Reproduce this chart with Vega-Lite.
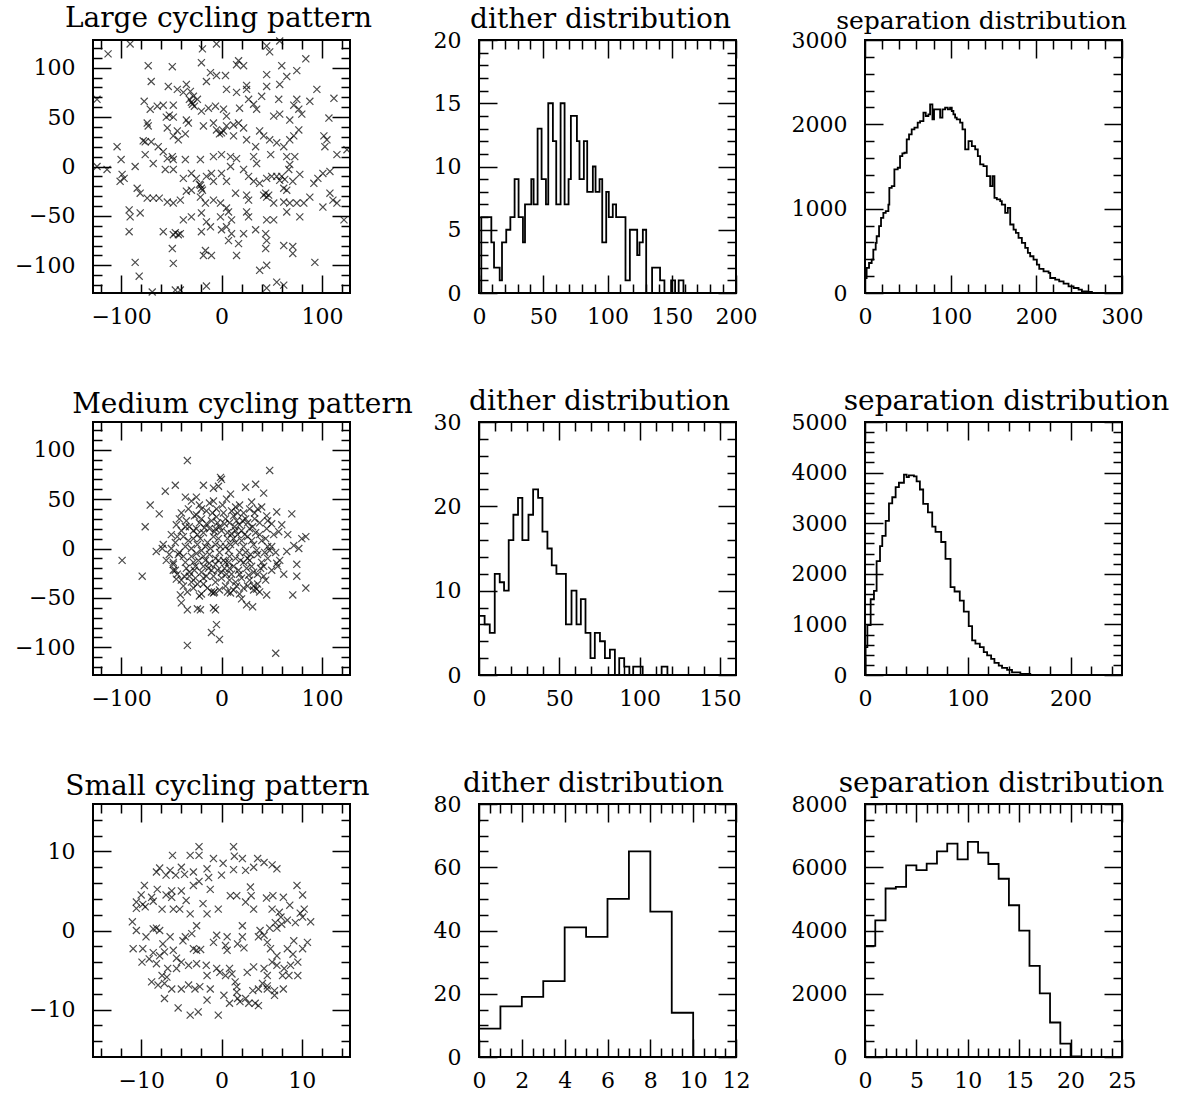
{
"$schema":"https://vega.github.io/schema/vega-lite/v6.json",
"background":"white",
"padding":{"left":13,"top":4,"right":5,"bottom":0},
"config":{
"view":{"stroke":"black","strokeWidth":2},
"axis":{"domain":false,"grid":false,"tickColor":"black","tickWidth":1.5,"labelFont":"DejaVu Serif","labelFontSize":22,"labelColor":"black","labelFlush":false,"labelOverlap":false,"labelBound":false},
"title":{"font":"DejaVu Serif","fontSize":28,"fontWeight":"normal","color":"black","anchor":"middle","offset":-5,"baseline":"alphabetic"}
},
"datasets":{
"large":[{"x":-113,"y":114},{"x":-91,"y":124},{"x":-19,"y":119},{"x":-5,"y":124},{"x":45,"y":122},{"x":48,"y":116},{"x":58,"y":127},{"x":-20,"y":105},{"x":-73,"y":102},{"x":-49,"y":101},{"x":17,"y":107},{"x":22,"y":102},{"x":15,"y":103},{"x":84,"y":109},{"x":75,"y":97},{"x":60,"y":102},{"x":45,"y":93},{"x":65,"y":91},{"x":-11,"y":95},{"x":-5,"y":92},{"x":4,"y":92},{"x":-70,"y":86},{"x":-35,"y":83},{"x":-15,"y":86},{"x":5,"y":78},{"x":25,"y":82},{"x":25,"y":78},{"x":45,"y":81},{"x":58,"y":83},{"x":95,"y":78},{"x":-53,"y":81},{"x":-44,"y":78},{"x":-38,"y":75},{"x":-31,"y":76},{"x":-28,"y":71},{"x":-24,"y":68},{"x":-30,"y":65},{"x":-27,"y":61},{"x":15,"y":75},{"x":27,"y":68},{"x":40,"y":71},{"x":57,"y":68},{"x":75,"y":68},{"x":88,"y":66},{"x":112,"y":69},{"x":-124,"y":68},{"x":-77,"y":66},{"x":-71,"y":58},{"x":-64,"y":61},{"x":-58,"y":62},{"x":-48,"y":62},{"x":-20,"y":56},{"x":-13,"y":59},{"x":-6,"y":61},{"x":2,"y":58},{"x":5,"y":51},{"x":17,"y":44},{"x":18,"y":59},{"x":35,"y":58},{"x":32,"y":63},{"x":72,"y":62},{"x":77,"y":58},{"x":80,"y":53},{"x":52,"y":51},{"x":58,"y":53},{"x":68,"y":47},{"x":107,"y":49},{"x":-48,"y":50},{"x":-35,"y":47},{"x":-33,"y":44},{"x":-74,"y":44},{"x":-73,"y":41},{"x":-54,"y":39},{"x":-44,"y":36},{"x":-48,"y":31},{"x":-36,"y":33},{"x":-43,"y":27},{"x":-70,"y":25},{"x":-63,"y":20},{"x":-58,"y":15},{"x":-18,"y":41},{"x":-5,"y":37},{"x":0,"y":34},{"x":5,"y":41},{"x":-8,"y":44},{"x":12,"y":42},{"x":22,"y":39},{"x":12,"y":31},{"x":25,"y":27},{"x":38,"y":36},{"x":42,"y":31},{"x":48,"y":27},{"x":55,"y":24},{"x":62,"y":20},{"x":68,"y":27},{"x":72,"y":31},{"x":77,"y":37},{"x":34,"y":20},{"x":102,"y":31},{"x":105,"y":27},{"x":103,"y":20},{"x":115,"y":12},{"x":125,"y":17},{"x":-104,"y":20},{"x":-100,"y":7},{"x":-86,"y":0},{"x":-76,"y":12},{"x":-68,"y":3},{"x":-54,"y":8},{"x":-49,"y":10},{"x":-48,"y":7},{"x":-36,"y":7},{"x":-21,"y":7},{"x":-8,"y":10},{"x":0,"y":12},{"x":9,"y":10},{"x":15,"y":8},{"x":32,"y":10},{"x":35,"y":3},{"x":49,"y":12},{"x":65,"y":10},{"x":73,"y":10},{"x":68,"y":2},{"x":-124,"y":0},{"x":-114,"y":-3},{"x":-99,"y":-8},{"x":-97,"y":-12},{"x":-101,"y":-15},{"x":-56,"y":-3},{"x":-48,"y":-3},{"x":-38,"y":-12},{"x":-30,"y":-7},{"x":-25,"y":-12},{"x":-21,"y":-19},{"x":-20,"y":-22},{"x":-15,"y":-10},{"x":-10,"y":-7},{"x":-8,"y":-15},{"x":0,"y":-7},{"x":5,"y":-15},{"x":9,"y":0},{"x":22,"y":-3},{"x":27,"y":-10},{"x":32,"y":-15},{"x":38,"y":-17},{"x":45,"y":-12},{"x":50,"y":-10},{"x":55,"y":-10},{"x":58,"y":-14},{"x":62,"y":-22},{"x":65,"y":-24},{"x":67,"y":-3},{"x":71,"y":-15},{"x":78,"y":-8},{"x":92,"y":-17},{"x":96,"y":-12},{"x":101,"y":-7},{"x":108,"y":-5},{"x":-84,"y":-22},{"x":-81,"y":-27},{"x":-74,"y":-32},{"x":-68,"y":-32},{"x":-62,"y":-32},{"x":-54,"y":-36},{"x":-48,"y":-37},{"x":-41,"y":-34},{"x":-35,"y":-25},{"x":-30,"y":-24},{"x":-21,"y":-31},{"x":-16,"y":-37},{"x":-8,"y":-34},{"x":-1,"y":-37},{"x":5,"y":-42},{"x":14,"y":-27},{"x":25,"y":-29},{"x":27,"y":-34},{"x":42,"y":-29},{"x":45,"y":-31},{"x":52,"y":-37},{"x":62,"y":-36},{"x":68,"y":-37},{"x":75,"y":-37},{"x":82,"y":-37},{"x":88,"y":-31},{"x":108,"y":-27},{"x":111,"y":-34},{"x":115,"y":-37},{"x":101,"y":-41},{"x":122,"y":-54},{"x":-92,"y":-44},{"x":-91,"y":-51},{"x":-81,"y":-47},{"x":-92,"y":-66},{"x":-38,"y":-54},{"x":-30,"y":-51},{"x":-20,"y":-47},{"x":-15,"y":-56},{"x":-11,"y":-61},{"x":-1,"y":-51},{"x":7,"y":-46},{"x":10,"y":-54},{"x":25,"y":-46},{"x":27,"y":-51},{"x":45,"y":-54},{"x":52,"y":-54},{"x":65,"y":-46},{"x":78,"y":-51},{"x":-58,"y":-66},{"x":-48,"y":-69},{"x":-41,"y":-68},{"x":-20,"y":-66},{"x":0,"y":-64},{"x":5,"y":-61},{"x":10,"y":-68},{"x":7,"y":-75},{"x":22,"y":-68},{"x":34,"y":-64},{"x":44,"y":-68},{"x":45,"y":-75},{"x":17,"y":-78},{"x":62,"y":-80},{"x":71,"y":-81},{"x":71,"y":-88},{"x":-49,"y":-83},{"x":-48,"y":-98},{"x":-16,"y":-85},{"x":-10,"y":-90},{"x":-18,"y":-90},{"x":15,"y":-90},{"x":44,"y":-83},{"x":45,"y":-100},{"x":38,"y":-105},{"x":93,"y":-97},{"x":-86,"y":-97},{"x":-82,"y":-111},{"x":-69,"y":-127},{"x":-46,"y":-125},{"x":-41,"y":-125},{"x":-15,"y":-121},{"x":45,"y":-123},{"x":55,"y":-117},{"x":62,"y":-120},{"x":-32,"y":68},{"x":-29,"y":63},{"x":-22,"y":-18},{"x":-19,"y":-24},{"x":44,"y":-27},{"x":47,"y":-29},{"x":-46,"y":-67},{"x":-43,"y":-69},{"x":-78,"y":26},{"x":-76,"y":25},{"x":63,"y":-13},{"x":60,"y":-10},{"x":-2,"y":33},{"x":2,"y":36},{"x":-55,"y":50},{"x":-52,"y":52}],
"medium":[{"x":-34,"y":89},{"x":48,"y":79},{"x":-1,"y":72},{"x":0,"y":70},{"x":-56,"y":58},{"x":-46,"y":64},{"x":-18,"y":64},{"x":-8,"y":61},{"x":-3,"y":63},{"x":24,"y":62},{"x":34,"y":65},{"x":42,"y":56},{"x":-71,"y":44},{"x":-62,"y":35},{"x":-76,"y":22},{"x":-36,"y":52},{"x":-25,"y":52},{"x":9,"y":55},{"x":55,"y":37},{"x":70,"y":35},{"x":66,"y":14},{"x":80,"y":10},{"x":84,"y":12},{"x":72,"y":3},{"x":77,"y":0},{"x":65,"y":-3},{"x":-99,"y":-12},{"x":-79,"y":-28},{"x":-65,"y":-3},{"x":-59,"y":0},{"x":-48,"y":-14},{"x":-46,"y":-22},{"x":-45,"y":-31},{"x":-41,"y":-47},{"x":-40,"y":-55},{"x":-34,"y":-62},{"x":-24,"y":-61},{"x":-21,"y":-62},{"x":-22,"y":-48},{"x":-8,"y":-60},{"x":-6,"y":-62},{"x":-5,"y":-77},{"x":-10,"y":-85},{"x":-2,"y":-92},{"x":-34,"y":-98},{"x":54,"y":-106},{"x":71,"y":-47},{"x":84,"y":-40},{"x":75,"y":-16},{"x":75,"y":-28},{"x":62,"y":-26},{"x":45,"y":-47},{"x":25,"y":-57},{"x":31,"y":-59},{"x":20,"y":-51},{"x":35,"y":-41},{"x":32,"y":-38},{"x":9,"y":-45},{"x":55,"y":-15},{"x":57,"y":17},{"x":60,"y":24},{"x":-30,"y":48},{"x":-12,"y":46},{"x":5,"y":50},{"x":18,"y":44},{"x":30,"y":47},{"x":40,"y":42},{"x":-20,"y":40},{"x":10,"y":38},{"x":-40,"y":36},{"x":-25,"y":34},{"x":-15,"y":38},{"x":-5,"y":32},{"x":2,"y":36},{"x":12,"y":33},{"x":22,"y":36},{"x":33,"y":30},{"x":45,"y":33},{"x":-35,"y":28},{"x":50,"y":25},{"x":-45,"y":24},{"x":-32,"y":22},{"x":-22,"y":26},{"x":-10,"y":28},{"x":-2,"y":22},{"x":8,"y":26},{"x":18,"y":24},{"x":28,"y":20},{"x":38,"y":26},{"x":-28,"y":18},{"x":14,"y":18},{"x":-50,"y":14},{"x":-38,"y":12},{"x":-28,"y":10},{"x":-18,"y":16},{"x":-8,"y":12},{"x":0,"y":18},{"x":6,"y":10},{"x":16,"y":14},{"x":26,"y":12},{"x":34,"y":16},{"x":44,"y":10},{"x":-14,"y":6},{"x":-58,"y":4},{"x":-46,"y":6},{"x":-36,"y":2},{"x":-24,"y":4},{"x":-6,"y":4},{"x":4,"y":2},{"x":14,"y":6},{"x":22,"y":2},{"x":32,"y":4},{"x":40,"y":8},{"x":50,"y":2},{"x":-52,"y":-6},{"x":-42,"y":-4},{"x":-30,"y":-8},{"x":-20,"y":-2},{"x":-12,"y":-6},{"x":-2,"y":-4},{"x":8,"y":-8},{"x":18,"y":-4},{"x":26,"y":-10},{"x":36,"y":-6},{"x":46,"y":-10},{"x":54,"y":-4},{"x":-48,"y":-16},{"x":-36,"y":-14},{"x":-26,"y":-18},{"x":-16,"y":-12},{"x":-6,"y":-16},{"x":2,"y":-12},{"x":12,"y":-18},{"x":22,"y":-14},{"x":30,"y":-18},{"x":40,"y":-14},{"x":56,"y":-18},{"x":-10,"y":-22},{"x":-44,"y":-26},{"x":-32,"y":-28},{"x":-20,"y":-24},{"x":-8,"y":-28},{"x":0,"y":-24},{"x":10,"y":-26},{"x":20,"y":-30},{"x":32,"y":-24},{"x":42,"y":-28},{"x":-26,"y":-30},{"x":-30,"y":-34},{"x":-18,"y":-36},{"x":-6,"y":-34},{"x":4,"y":-38},{"x":14,"y":-34},{"x":26,"y":-38},{"x":36,"y":-36},{"x":-24,"y":-36},{"x":-10,"y":-44},{"x":-8,"y":-45},{"x":-7,"y":-44},{"x":6,"y":-44},{"x":18,"y":-46},{"x":32,"y":-42},{"x":-28,"y":-40},{"x":-15,"y":25},{"x":-3,"y":10},{"x":7,"y":-2},{"x":-25,"y":-5},{"x":-35,"y":-20},{"x":25,"y":-20},{"x":35,"y":-2},{"x":15,"y":28},{"x":-5,"y":40},{"x":28,"y":40},{"x":-40,"y":18},{"x":45,"y":20},{"x":-18,"y":-30},{"x":8,"y":-32},{"x":-12,"y":-15},{"x":3,"y":-20},{"x":20,"y":8},{"x":-30,"y":0},{"x":10,"y":15},{"x":-20,"y":30},{"x":-42,"y":30},{"x":-33,"y":40},{"x":-22,"y":44},{"x":-8,"y":48},{"x":14,"y":42},{"x":24,"y":30},{"x":36,"y":40},{"x":46,"y":28},{"x":52,"y":14},{"x":48,"y":-2},{"x":58,"y":-12},{"x":50,"y":-22},{"x":44,"y":-32},{"x":38,"y":-44},{"x":22,"y":-40},{"x":12,"y":-42},{"x":0,"y":-30},{"x":-14,"y":-40},{"x":-20,"y":-46},{"x":-34,"y":-44},{"x":-40,"y":-32},{"x":-48,"y":-22},{"x":-55,"y":-12},{"x":-50,"y":0},{"x":-44,"y":12},{"x":-36,"y":22},{"x":-24,"y":14},{"x":-12,"y":20},{"x":-4,"y":26},{"x":4,"y":30},{"x":16,"y":36},{"x":26,"y":26},{"x":30,"y":8},{"x":24,"y":-4},{"x":14,"y":-10},{"x":4,"y":-14},{"x":-6,"y":-10},{"x":-18,"y":-8},{"x":-28,"y":-14},{"x":-38,"y":-8},{"x":-16,"y":2},{"x":-4,"y":-22},{"x":8,"y":-20},{"x":18,"y":-26},{"x":28,"y":-32},{"x":36,"y":-26},{"x":42,"y":-18},{"x":46,"y":2},{"x":38,"y":14},{"x":20,"y":18},{"x":-32,"y":-24},{"x":-27,"y":33},{"x":-17,"y":21},{"x":-7,"y":17},{"x":3,"y":25},{"x":13,"y":22},{"x":23,"y":14},{"x":31,"y":22},{"x":-33,"y":8},{"x":-23,"y":-12},{"x":-13,"y":-20},{"x":-3,"y":-12},{"x":7,"y":-14},{"x":17,"y":-22},{"x":27,"y":-27},{"x":-37,"y":-28},{"x":-27,"y":-22},{"x":-43,"y":-6},{"x":-21,"y":10},{"x":-11,"y":0},{"x":-1,"y":2},{"x":9,"y":4},{"x":19,"y":-12},{"x":29,"y":-6},{"x":39,"y":-20},{"x":-15,"y":-28},{"x":5,"y":-26},{"x":15,"y":-38},{"x":-25,"y":20},{"x":-9,"y":36},{"x":1,"y":44},{"x":21,"y":28},{"x":33,"y":36},{"x":-38,"y":-38},{"x":-2,"y":-42},{"x":28,"y":-12},{"x":43,"y":-4},{"x":12,"y":10},{"x":-6,"y":20},{"x":-18,"y":-18},{"x":6,"y":16}],
"small":[{"x":-2.8,"y":10.6},{"x":-2.8,"y":9.5},{"x":-3.9,"y":9.5},{"x":-6.1,"y":9.5},{"x":-1.0,"y":9.1},{"x":1.5,"y":10.6},{"x":1.6,"y":9.4},{"x":2.6,"y":9.1},{"x":0.2,"y":8.5},{"x":4.5,"y":9.1},{"x":5.3,"y":8.6},{"x":6.3,"y":8.3},{"x":6.9,"y":7.8},{"x":4.0,"y":8.0},{"x":3.0,"y":7.6},{"x":1.5,"y":7.7},{"x":0.0,"y":7.0},{"x":-1.8,"y":7.8},{"x":-1.6,"y":6.7},{"x":-3.5,"y":7.4},{"x":-4.6,"y":7.1},{"x":-5.0,"y":8.0},{"x":-5.7,"y":7.0},{"x":-6.4,"y":7.6},{"x":-7.7,"y":7.9},{"x":-8.1,"y":7.4},{"x":-6.9,"y":7.0},{"x":-9.6,"y":5.7},{"x":-10.0,"y":4.5},{"x":-10.6,"y":3.6},{"x":-10.6,"y":2.8},{"x":-8.7,"y":4.2},{"x":-8.5,"y":3.7},{"x":-7.4,"y":2.7},{"x":-6.9,"y":4.5},{"x":-6.2,"y":5.0},{"x":-6.2,"y":4.2},{"x":-5.0,"y":5.0},{"x":-4.4,"y":3.8},{"x":-3.5,"y":5.7},{"x":-2.8,"y":6.2},{"x":-1.4,"y":5.2},{"x":-2.3,"y":3.4},{"x":-1.8,"y":2.1},{"x":-3.9,"y":2.1},{"x":-5.2,"y":2.7},{"x":-6.0,"y":2.7},{"x":-0.4,"y":2.7},{"x":1.1,"y":4.4},{"x":1.9,"y":4.4},{"x":3.6,"y":5.5},{"x":3.7,"y":4.4},{"x":3.0,"y":3.6},{"x":4.0,"y":2.7},{"x":5.6,"y":4.1},{"x":6.4,"y":4.4},{"x":6.3,"y":2.7},{"x":7.7,"y":4.2},{"x":8.5,"y":3.2},{"x":9.4,"y":5.7},{"x":10.1,"y":4.5},{"x":10.3,"y":2.7},{"x":10.1,"y":1.7},{"x":11.1,"y":1.1},{"x":9.2,"y":1.0},{"x":8.2,"y":1.3},{"x":7.4,"y":1.7},{"x":6.7,"y":1.0},{"x":6.9,"y":0.3},{"x":6.0,"y":0.3},{"x":4.8,"y":0.0},{"x":5.3,"y":-0.6},{"x":5.7,"y":-1.5},{"x":4.6,"y":-0.8},{"x":6.1,"y":-2.3},{"x":8.2,"y":-2.3},{"x":9.0,"y":-1.3},{"x":10.7,"y":-1.5},{"x":10.1,"y":-2.3},{"x":-11.1,"y":1.1},{"x":-10.6,"y":0.0},{"x":-11.0,"y":-2.3},{"x":-9.8,"y":-2.3},{"x":-8.5,"y":0.2},{"x":-8.1,"y":0.3},{"x":-7.7,"y":0.0},{"x":-9.4,"y":-0.8},{"x":-7.3,"y":-1.7},{"x":-6.4,"y":-0.8},{"x":-8.5,"y":-2.8},{"x":-7.7,"y":-3.2},{"x":-7.1,"y":-2.7},{"x":-6.0,"y":-2.5},{"x":-5.6,"y":-3.5},{"x":-4.8,"y":-1.3},{"x":-3.7,"y":-0.4},{"x":-3.1,"y":0.6},{"x":-3.5,"y":-2.3},{"x":-3.1,"y":-2.5},{"x":-1.0,"y":-1.5},{"x":0.7,"y":-0.8},{"x":0.5,"y":-1.9},{"x":0.7,"y":-2.5},{"x":2.0,"y":-1.7},{"x":2.6,"y":0.6},{"x":2.8,"y":-2.2},{"x":-9.9,"y":-4.0},{"x":-9.0,"y":-3.6},{"x":-8.1,"y":-4.2},{"x":-7.4,"y":-5.7},{"x":-6.7,"y":-4.8},{"x":-5.6,"y":-4.8},{"x":-5.0,"y":-4.0},{"x":-4.1,"y":-4.4},{"x":-8.7,"y":-6.5},{"x":-7.9,"y":-6.9},{"x":-7.1,"y":-6.7},{"x":-6.2,"y":-7.4},{"x":-5.0,"y":-7.4},{"x":-4.1,"y":-6.9},{"x":-3.3,"y":-7.4},{"x":-2.7,"y":-7.1},{"x":-1.4,"y":-7.4},{"x":-7.1,"y":-8.6},{"x":-5.4,"y":-9.8},{"x":-3.9,"y":-10.7},{"x":-2.9,"y":-10.3},{"x":-1.8,"y":-8.8},{"x":-0.4,"y":-10.7},{"x":-3.1,"y":-4.2},{"x":-1.9,"y":-4.4},{"x":-1.8,"y":-5.7},{"x":-0.6,"y":-4.8},{"x":-0.2,"y":-5.3},{"x":0.5,"y":-5.7},{"x":1.0,"y":-4.8},{"x":1.3,"y":-5.5},{"x":0.3,"y":-8.2},{"x":1.0,"y":-9.2},{"x":1.7,"y":-6.5},{"x":1.9,"y":-7.1},{"x":2.3,"y":-9.0},{"x":3.0,"y":-8.6},{"x":3.4,"y":-9.2},{"x":4.2,"y":-9.2},{"x":4.6,"y":-9.5},{"x":1.9,"y":-7.8},{"x":3.2,"y":-5.3},{"x":4.0,"y":-4.6},{"x":4.6,"y":-7.4},{"x":5.1,"y":-6.7},{"x":5.7,"y":-5.7},{"x":5.7,"y":-7.4},{"x":5.3,"y":-4.8},{"x":6.3,"y":-4.0},{"x":6.9,"y":-4.4},{"x":7.8,"y":-4.8},{"x":8.6,"y":-4.4},{"x":9.5,"y":-4.0},{"x":7.6,"y":-5.7},{"x":8.4,"y":-5.7},{"x":9.5,"y":-5.7},{"x":7.7,"y":-7.4},{"x":6.6,"y":-8.2},{"x":6.6,"y":-7.6},{"x":6.9,"y":-3.2},{"x":5.7,"y":-7.0},{"x":-0.6,"y":-0.6},{"x":2.6,"y":-0.8},{"x":-9.8,"y":3.3},{"x":-9.5,"y":3.0},{"x":-8.0,"y":5.2},{"x":7.2,"y":2.3},{"x":7.5,"y":0.8},{"x":8.9,"y":-3.0},{"x":-6.8,"y":-5.9},{"x":3.9,"y":-7.6},{"x":2.0,"y":-8.6},{"x":-4.5,"y":-0.8},{"x":-2.6,"y":-2.4},{"x":9.8,"y":2.2}],
"d1":[{"x":0,"n":0},{"x":1.8,"n":6},{"x":9.6,"n":4},{"x":11.7,"n":2},{"x":16.1,"n":1},{"x":17.9,"n":4},{"x":21.2,"n":5},{"x":24.4,"n":6},{"x":27.7,"n":9},{"x":30.8,"n":6},{"x":34.2,"n":4},{"x":35.8,"n":7},{"x":40.7,"n":9},{"x":42.5,"n":7},{"x":45.6,"n":13},{"x":48.7,"n":9},{"x":52.1,"n":7},{"x":53.9,"n":15},{"x":57.5,"n":12},{"x":60.1,"n":7},{"x":63.5,"n":15},{"x":66.6,"n":7},{"x":69.7,"n":9},{"x":71.5,"n":14},{"x":76.2,"n":12},{"x":78.2,"n":9},{"x":81.6,"n":12},{"x":84.2,"n":8},{"x":88.6,"n":10},{"x":90.7,"n":8},{"x":93.8,"n":9},{"x":95.9,"n":4},{"x":99.0,"n":8},{"x":101.0,"n":6},{"x":104.1,"n":7},{"x":106.7,"n":6},{"x":114.0,"n":1},{"x":117.4,"n":5},{"x":123.1,"n":3},{"x":124.9,"n":4},{"x":127.5,"n":5},{"x":130.1,"n":0},{"x":134.7,"n":2},{"x":140.9,"n":1},{"x":144.3,"n":0},{"x":149.5,"n":1},{"x":152.6,"n":0},{"x":155.4,"n":1},{"x":159.1,"n":0}],
"s1":[{"x":0,"n":178},{"x":1.9,"n":297},{"x":4.7,"n":356},{"x":7.8,"n":396},{"x":9.7,"n":515},{"x":12.5,"n":594},{"x":13.6,"n":673},{"x":16.4,"n":792},{"x":18.7,"n":891},{"x":21.4,"n":950},{"x":24.2,"n":970},{"x":27.3,"n":1049},{"x":28.4,"n":1247},{"x":31.2,"n":1267},{"x":34.3,"n":1465},{"x":38.2,"n":1485},{"x":40.9,"n":1624},{"x":43.6,"n":1655},{"x":46.0,"n":1663},{"x":48.7,"n":1822},{"x":51.4,"n":1881},{"x":54.5,"n":1940},{"x":57.7,"n":1960},{"x":61.5,"n":2020},{"x":64.3,"n":2039},{"x":68.2,"n":2138},{"x":70.9,"n":2099},{"x":74.0,"n":2119},{"x":76.0,"n":2237},{"x":78.7,"n":2059},{"x":80.6,"n":2178},{"x":87.7,"n":2079},{"x":90.4,"n":2178},{"x":93.5,"n":2198},{"x":96.6,"n":2178},{"x":99.3,"n":2198},{"x":101.3,"n":2158},{"x":103.2,"n":2119},{"x":105.2,"n":2079},{"x":107.1,"n":2059},{"x":111.0,"n":2020},{"x":113.8,"n":1940},{"x":116.9,"n":1703},{"x":120.8,"n":1802},{"x":124.7,"n":1742},{"x":128.6,"n":1703},{"x":131.7,"n":1624},{"x":134.4,"n":1525},{"x":138.3,"n":1505},{"x":142.2,"n":1386},{"x":146.1,"n":1267},{"x":148.8,"n":1386},{"x":151.1,"n":1129},{"x":153.9,"n":1109},{"x":157.8,"n":1089},{"x":159.7,"n":1049},{"x":163.6,"n":950},{"x":166.7,"n":1010},{"x":169.5,"n":812},{"x":173.4,"n":752},{"x":176.1,"n":713},{"x":179.2,"n":653},{"x":183.1,"n":594},{"x":187.0,"n":535},{"x":190.1,"n":475},{"x":192.8,"n":436},{"x":196.7,"n":396},{"x":200.6,"n":337},{"x":203.4,"n":285},{"x":208.4,"n":257},{"x":214.3,"n":238},{"x":216.2,"n":178},{"x":222.0,"n":158},{"x":226.7,"n":139},{"x":231.8,"n":111},{"x":237.6,"n":79},{"x":243.5,"n":59},{"x":249.3,"n":40},{"x":253.2,"n":20},{"x":259.1,"n":12},{"x":264.9,"n":0}],
"d2":[{"x":0,"n":7},{"x":3.5,"n":6},{"x":6.7,"n":5},{"x":9.8,"n":12},{"x":12.9,"n":11},{"x":15.6,"n":10},{"x":18.5,"n":16},{"x":21.4,"n":19},{"x":24.3,"n":21},{"x":27.0,"n":16},{"x":30.8,"n":19},{"x":33.7,"n":22},{"x":36.8,"n":21},{"x":39.5,"n":17},{"x":42.6,"n":15},{"x":45.3,"n":13},{"x":48.2,"n":12},{"x":54.1,"n":6},{"x":57.6,"n":10},{"x":60.7,"n":6},{"x":63.4,"n":9},{"x":66.3,"n":5},{"x":69.4,"n":2},{"x":72.1,"n":5},{"x":75.3,"n":4},{"x":78.4,"n":2},{"x":81.5,"n":3},{"x":84.6,"n":0},{"x":87.3,"n":2},{"x":90.4,"n":1},{"x":93.6,"n":0},{"x":96.0,"n":1},{"x":101.9,"n":0},{"x":113.7,"n":1},{"x":117.3,"n":0}],
"s2":[{"x":0,"n":0},{"x":0.6,"n":552},{"x":2.3,"n":985},{"x":5.5,"n":1497},{"x":8.7,"n":1663},{"x":11.3,"n":2249},{"x":14.6,"n":2548},{"x":16.8,"n":2748},{"x":20.1,"n":3047},{"x":23.3,"n":3393},{"x":26.5,"n":3513},{"x":29.8,"n":3713},{"x":33.0,"n":3799},{"x":37.9,"n":3959},{"x":40.5,"n":3912},{"x":42.7,"n":3945},{"x":47.6,"n":3925},{"x":50.2,"n":3826},{"x":53.4,"n":3666},{"x":56.6,"n":3380},{"x":61.2,"n":3214},{"x":65.4,"n":2934},{"x":68.6,"n":2828},{"x":74.1,"n":2628},{"x":78.3,"n":2295},{"x":83.2,"n":1737},{"x":87.1,"n":1650},{"x":92.2,"n":1470},{"x":96.1,"n":1251},{"x":100.9,"n":965},{"x":104.2,"n":685},{"x":107.4,"n":619},{"x":111.7,"n":552},{"x":115.5,"n":452},{"x":118.8,"n":386},{"x":122.7,"n":319},{"x":125.9,"n":240},{"x":130.1,"n":186},{"x":133.3,"n":140},{"x":138.2,"n":100},{"x":143.0,"n":53},{"x":151.1,"n":20},{"x":160.8,"n":0}],
"d3":[{"x":0,"n":9},{"x":1,"n":16},{"x":2,"n":19},{"x":3,"n":24},{"x":4,"n":41},{"x":5,"n":38},{"x":6,"n":50},{"x":7,"n":65},{"x":8,"n":46},{"x":9,"n":14},{"x":10,"n":0}],
"s3":[{"x":0,"n":3517},{"x":1,"n":4322},{"x":2,"n":5328},{"x":3,"n":5381},{"x":4,"n":6059},{"x":5,"n":5911},{"x":6,"n":6112},{"x":7,"n":6504},{"x":8,"n":6748},{"x":9,"n":6250},{"x":10,"n":6801},{"x":11,"n":6462},{"x":12,"n":6102},{"x":13,"n":5636},{"x":14,"n":4799},{"x":15,"n":3994},{"x":16,"n":2881},{"x":17,"n":2013},{"x":18,"n":1091},{"x":19,"n":424},{"x":20,"n":21},{"x":21,"n":0}]
},
"columns":3,
"spacing":{"row":129,"column":129},
"bounds":"flush",
"concat":[
{"width":257,"height":253,"title":{"text":"Large cycling pattern","dx":-3,"offset":2},"data":{"name":"large"},
"layer":[
{"mark":{"type":"point","shape":"M-1,-1L1,1M-1,1L1,-1","size":50,"filled":false,"color":"black","strokeWidth":1.2},
"encoding":{"x":{"field":"x","type":"quantitative","scale":{"domain":[-128,128],"nice":false,"zero":false},"axis":{"orient":"bottom","values":[-100,0,100],"tickSize":-18,"labelPadding":31,"format":"d","title":null}},
"y":{"field":"y","type":"quantitative","scale":{"domain":[-128,128],"nice":false,"zero":false},"axis":{"orient":"left","values":[-100,-50,0,50,100],"tickSize":-18,"labelPadding":36,"format":"d","title":null}}}},
{"mark":{"type":"point","opacity":0},"encoding":{"x":{"field":"x","type":"quantitative","axis":{"orient":"top","values":[-100,0,100],"tickSize":-18,"labels":false,"title":null}},"y":{"field":"y","type":"quantitative","axis":{"orient":"right","values":[-100,-50,0,50,100],"tickSize":-18,"labels":false,"title":null}}}},
{"mark":{"type":"point","opacity":0},"encoding":{"x":{"field":"x","type":"quantitative","axis":{"orient":"bottom","values":[-120,-80,-60,-40,-20,20,40,60,80,120],"tickSize":-9,"labels":false,"title":null}},"y":{"field":"y","type":"quantitative","axis":{"orient":"left","values":[-120,-110,-90,-80,-70,-60,-40,-30,-20,-10,10,20,30,40,60,70,80,90,110,120],"tickSize":-9,"labels":false,"title":null}}}},
{"mark":{"type":"point","opacity":0},"encoding":{"x":{"field":"x","type":"quantitative","axis":{"orient":"top","values":[-120,-80,-60,-40,-20,20,40,60,80,120],"tickSize":-9,"labels":false,"title":null}},"y":{"field":"y","type":"quantitative","axis":{"orient":"right","values":[-120,-110,-90,-80,-70,-60,-40,-30,-20,-10,10,20,30,40,60,70,80,90,110,120],"tickSize":-9,"labels":false,"title":null}}}}
],"resolve":{"axis":{"x":"independent","y":"independent"}}},
{"width":257,"height":253,"title":{"text":"dither distribution","dx":-7},"data":{"name":"d1"},
"layer":[
{"mark":{"type":"line","interpolate":"step-after","color":"black","strokeWidth":1.8},
"encoding":{"x":{"field":"x","type":"quantitative","scale":{"domain":[0,200],"nice":false,"zero":false},"axis":{"orient":"bottom","values":[0,50,100,150,200],"tickSize":-18,"labelPadding":31,"format":"d","title":null}},
"y":{"field":"n","type":"quantitative","scale":{"domain":[0,20],"nice":false,"zero":false},"axis":{"orient":"left","values":[0,5,10,15,20],"tickSize":-18,"labelPadding":36,"format":"d","title":null}}}},
{"mark":{"type":"point","opacity":0},"encoding":{"x":{"field":"x","type":"quantitative","axis":{"orient":"top","values":[0,50,100,150,200],"tickSize":-18,"labels":false,"title":null}},"y":{"field":"n","type":"quantitative","axis":{"orient":"right","values":[0,5,10,15,20],"tickSize":-18,"labels":false,"title":null}}}},
{"mark":{"type":"point","opacity":0},"encoding":{"x":{"field":"x","type":"quantitative","axis":{"orient":"bottom","values":[10,20,30,40,60,70,80,90,110,120,130,140,160,170,180,190],"tickSize":-9,"labels":false,"title":null}},"y":{"field":"n","type":"quantitative","axis":{"orient":"left","values":[1,2,3,4,6,7,8,9,11,12,13,14,16,17,18,19],"tickSize":-9,"labels":false,"title":null}}}},
{"mark":{"type":"point","opacity":0},"encoding":{"x":{"field":"x","type":"quantitative","axis":{"orient":"top","values":[10,20,30,40,60,70,80,90,110,120,130,140,160,170,180,190],"tickSize":-9,"labels":false,"title":null}},"y":{"field":"n","type":"quantitative","axis":{"orient":"right","values":[1,2,3,4,6,7,8,9,11,12,13,14,16,17,18,19],"tickSize":-9,"labels":false,"title":null}}}}
],"resolve":{"axis":{"x":"independent","y":"independent"}}},
{"width":257,"height":253,"title":{"text":"separation distribution","dx":-12,"fontSize":25},"data":{"name":"s1"},
"layer":[
{"mark":{"type":"line","interpolate":"step-after","color":"black","strokeWidth":1.8},
"encoding":{"x":{"field":"x","type":"quantitative","scale":{"domain":[0,300],"nice":false,"zero":false},"axis":{"orient":"bottom","values":[0,100,200,300],"tickSize":-18,"labelPadding":31,"format":"d","title":null}},
"y":{"field":"n","type":"quantitative","scale":{"domain":[0,3000],"nice":false,"zero":false},"axis":{"orient":"left","values":[0,1000,2000,3000],"tickSize":-18,"labelPadding":36,"format":"d","title":null}}}},
{"mark":{"type":"point","opacity":0},"encoding":{"x":{"field":"x","type":"quantitative","axis":{"orient":"top","values":[0,100,200,300],"tickSize":-18,"labels":false,"title":null}},"y":{"field":"n","type":"quantitative","axis":{"orient":"right","values":[0,1000,2000,3000],"tickSize":-18,"labels":false,"title":null}}}},
{"mark":{"type":"point","opacity":0},"encoding":{"x":{"field":"x","type":"quantitative","axis":{"orient":"bottom","values":[20,40,60,80,120,140,160,180,220,240,260,280],"tickSize":-9,"labels":false,"title":null}},"y":{"field":"n","type":"quantitative","axis":{"orient":"left","values":[200,400,600,800,1200,1400,1600,1800,2200,2400,2600,2800],"tickSize":-9,"labels":false,"title":null}}}},
{"mark":{"type":"point","opacity":0},"encoding":{"x":{"field":"x","type":"quantitative","axis":{"orient":"top","values":[20,40,60,80,120,140,160,180,220,240,260,280],"tickSize":-9,"labels":false,"title":null}},"y":{"field":"n","type":"quantitative","axis":{"orient":"right","values":[200,400,600,800,1200,1400,1600,1800,2200,2400,2600,2800],"tickSize":-9,"labels":false,"title":null}}}}
],"resolve":{"axis":{"x":"independent","y":"independent"}}},
{"width":257,"height":253,"title":{"text":"Medium cycling pattern","dx":21,"offset":2},"data":{"name":"medium"},
"layer":[
{"mark":{"type":"point","shape":"M-1,-1L1,1M-1,1L1,-1","size":50,"filled":false,"color":"black","strokeWidth":1.2},
"encoding":{"x":{"field":"x","type":"quantitative","scale":{"domain":[-128,128],"nice":false,"zero":false},"axis":{"orient":"bottom","values":[-100,0,100],"tickSize":-18,"labelPadding":31,"format":"d","title":null}},
"y":{"field":"y","type":"quantitative","scale":{"domain":[-128,128],"nice":false,"zero":false},"axis":{"orient":"left","values":[-100,-50,0,50,100],"tickSize":-18,"labelPadding":36,"format":"d","title":null}}}},
{"mark":{"type":"point","opacity":0},"encoding":{"x":{"field":"x","type":"quantitative","axis":{"orient":"top","values":[-100,0,100],"tickSize":-18,"labels":false,"title":null}},"y":{"field":"y","type":"quantitative","axis":{"orient":"right","values":[-100,-50,0,50,100],"tickSize":-18,"labels":false,"title":null}}}},
{"mark":{"type":"point","opacity":0},"encoding":{"x":{"field":"x","type":"quantitative","axis":{"orient":"bottom","values":[-120,-80,-60,-40,-20,20,40,60,80,120],"tickSize":-9,"labels":false,"title":null}},"y":{"field":"y","type":"quantitative","axis":{"orient":"left","values":[-120,-110,-90,-80,-70,-60,-40,-30,-20,-10,10,20,30,40,60,70,80,90,110,120],"tickSize":-9,"labels":false,"title":null}}}},
{"mark":{"type":"point","opacity":0},"encoding":{"x":{"field":"x","type":"quantitative","axis":{"orient":"top","values":[-120,-80,-60,-40,-20,20,40,60,80,120],"tickSize":-9,"labels":false,"title":null}},"y":{"field":"y","type":"quantitative","axis":{"orient":"right","values":[-120,-110,-90,-80,-70,-60,-40,-30,-20,-10,10,20,30,40,60,70,80,90,110,120],"tickSize":-9,"labels":false,"title":null}}}}
],"resolve":{"axis":{"x":"independent","y":"independent"}}},
{"width":257,"height":253,"title":{"text":"dither distribution","dx":-8},"data":{"name":"d2"},
"layer":[
{"mark":{"type":"line","interpolate":"step-after","color":"black","strokeWidth":1.8},
"encoding":{"x":{"field":"x","type":"quantitative","scale":{"domain":[0,160],"nice":false,"zero":false},"axis":{"orient":"bottom","values":[0,50,100,150],"tickSize":-18,"labelPadding":31,"format":"d","title":null}},
"y":{"field":"n","type":"quantitative","scale":{"domain":[0,30],"nice":false,"zero":false},"axis":{"orient":"left","values":[0,10,20,30],"tickSize":-18,"labelPadding":36,"format":"d","title":null}}}},
{"mark":{"type":"point","opacity":0},"encoding":{"x":{"field":"x","type":"quantitative","axis":{"orient":"top","values":[0,50,100,150],"tickSize":-18,"labels":false,"title":null}},"y":{"field":"n","type":"quantitative","axis":{"orient":"right","values":[0,10,20,30],"tickSize":-18,"labels":false,"title":null}}}},
{"mark":{"type":"point","opacity":0},"encoding":{"x":{"field":"x","type":"quantitative","axis":{"orient":"bottom","values":[10,20,30,40,60,70,80,90,110,120,130,140],"tickSize":-9,"labels":false,"title":null}},"y":{"field":"n","type":"quantitative","axis":{"orient":"left","values":[2,4,6,8,12,14,16,18,22,24,26,28],"tickSize":-9,"labels":false,"title":null}}}},
{"mark":{"type":"point","opacity":0},"encoding":{"x":{"field":"x","type":"quantitative","axis":{"orient":"top","values":[10,20,30,40,60,70,80,90,110,120,130,140],"tickSize":-9,"labels":false,"title":null}},"y":{"field":"n","type":"quantitative","axis":{"orient":"right","values":[2,4,6,8,12,14,16,18,22,24,26,28],"tickSize":-9,"labels":false,"title":null}}}}
],"resolve":{"axis":{"x":"independent","y":"independent"}}},
{"width":257,"height":253,"title":{"text":"separation distribution","dx":13},"data":{"name":"s2"},
"layer":[
{"mark":{"type":"line","interpolate":"step-after","color":"black","strokeWidth":1.8},
"encoding":{"x":{"field":"x","type":"quantitative","scale":{"domain":[0,250],"nice":false,"zero":false},"axis":{"orient":"bottom","values":[0,100,200],"tickSize":-18,"labelPadding":31,"format":"d","title":null}},
"y":{"field":"n","type":"quantitative","scale":{"domain":[0,5000],"nice":false,"zero":false},"axis":{"orient":"left","values":[0,1000,2000,3000,4000,5000],"tickSize":-18,"labelPadding":36,"format":"d","title":null}}}},
{"mark":{"type":"point","opacity":0},"encoding":{"x":{"field":"x","type":"quantitative","axis":{"orient":"top","values":[0,100,200],"tickSize":-18,"labels":false,"title":null}},"y":{"field":"n","type":"quantitative","axis":{"orient":"right","values":[0,1000,2000,3000,4000,5000],"tickSize":-18,"labels":false,"title":null}}}},
{"mark":{"type":"point","opacity":0},"encoding":{"x":{"field":"x","type":"quantitative","axis":{"orient":"bottom","values":[20,40,60,80,120,140,160,180,220,240],"tickSize":-9,"labels":false,"title":null}},"y":{"field":"n","type":"quantitative","axis":{"orient":"left","values":[200,400,600,800,1200,1400,1600,1800,2200,2400,2600,2800,3200,3400,3600,3800,4200,4400,4600,4800],"tickSize":-9,"labels":false,"title":null}}}},
{"mark":{"type":"point","opacity":0},"encoding":{"x":{"field":"x","type":"quantitative","axis":{"orient":"top","values":[20,40,60,80,120,140,160,180,220,240],"tickSize":-9,"labels":false,"title":null}},"y":{"field":"n","type":"quantitative","axis":{"orient":"right","values":[200,400,600,800,1200,1400,1600,1800,2200,2400,2600,2800,3200,3400,3600,3800,4200,4400,4600,4800],"tickSize":-9,"labels":false,"title":null}}}}
],"resolve":{"axis":{"x":"independent","y":"independent"}}},
{"width":257,"height":253,"title":{"text":"Small cycling pattern","dx":-4,"offset":2},"data":{"name":"small"},
"layer":[
{"mark":{"type":"point","shape":"M-1,-1L1,1M-1,1L1,-1","size":50,"filled":false,"color":"black","strokeWidth":1.2},
"encoding":{"x":{"field":"x","type":"quantitative","scale":{"domain":[-16,16],"nice":false,"zero":false},"axis":{"orient":"bottom","values":[-10,0,10],"tickSize":-18,"labelPadding":31,"format":"d","title":null}},
"y":{"field":"y","type":"quantitative","scale":{"domain":[-16,16],"nice":false,"zero":false},"axis":{"orient":"left","values":[-10,0,10],"tickSize":-18,"labelPadding":36,"format":"d","title":null}}}},
{"mark":{"type":"point","opacity":0},"encoding":{"x":{"field":"x","type":"quantitative","axis":{"orient":"top","values":[-10,0,10],"tickSize":-18,"labels":false,"title":null}},"y":{"field":"y","type":"quantitative","axis":{"orient":"right","values":[-10,0,10],"tickSize":-18,"labels":false,"title":null}}}},
{"mark":{"type":"point","opacity":0},"encoding":{"x":{"field":"x","type":"quantitative","axis":{"orient":"bottom","values":[-15,-12.5,-7.5,-5,-2.5,2.5,5,7.5,12.5,15],"tickSize":-9,"labels":false,"title":null}},"y":{"field":"y","type":"quantitative","axis":{"orient":"left","values":[-14,-12,-8,-6,-4,-2,2,4,6,8,12,14],"tickSize":-9,"labels":false,"title":null}}}},
{"mark":{"type":"point","opacity":0},"encoding":{"x":{"field":"x","type":"quantitative","axis":{"orient":"top","values":[-15,-12.5,-7.5,-5,-2.5,2.5,5,7.5,12.5,15],"tickSize":-9,"labels":false,"title":null}},"y":{"field":"y","type":"quantitative","axis":{"orient":"right","values":[-14,-12,-8,-6,-4,-2,2,4,6,8,12,14],"tickSize":-9,"labels":false,"title":null}}}}
],"resolve":{"axis":{"x":"independent","y":"independent"}}},
{"width":257,"height":253,"title":{"text":"dither distribution","dx":-14},"data":{"name":"d3"},
"layer":[
{"mark":{"type":"line","interpolate":"step-after","color":"black","strokeWidth":1.8},
"encoding":{"x":{"field":"x","type":"quantitative","scale":{"domain":[0,12],"nice":false,"zero":false},"axis":{"orient":"bottom","values":[0,2,4,6,8,10,12],"tickSize":-18,"labelPadding":31,"format":"d","title":null}},
"y":{"field":"n","type":"quantitative","scale":{"domain":[0,80],"nice":false,"zero":false},"axis":{"orient":"left","values":[0,20,40,60,80],"tickSize":-18,"labelPadding":36,"format":"d","title":null}}}},
{"mark":{"type":"point","opacity":0},"encoding":{"x":{"field":"x","type":"quantitative","axis":{"orient":"top","values":[0,2,4,6,8,10,12],"tickSize":-18,"labels":false,"title":null}},"y":{"field":"n","type":"quantitative","axis":{"orient":"right","values":[0,20,40,60,80],"tickSize":-18,"labels":false,"title":null}}}},
{"mark":{"type":"point","opacity":0},"encoding":{"x":{"field":"x","type":"quantitative","axis":{"orient":"bottom","values":[0.5,1,1.5,2.5,3,3.5,4.5,5,5.5,6.5,7,7.5,8.5,9,9.5,10.5,11,11.5],"tickSize":-9,"labels":false,"title":null}},"y":{"field":"n","type":"quantitative","axis":{"orient":"left","values":[5,10,15,25,30,35,45,50,55,65,70,75],"tickSize":-9,"labels":false,"title":null}}}},
{"mark":{"type":"point","opacity":0},"encoding":{"x":{"field":"x","type":"quantitative","axis":{"orient":"top","values":[0.5,1,1.5,2.5,3,3.5,4.5,5,5.5,6.5,7,7.5,8.5,9,9.5,10.5,11,11.5],"tickSize":-9,"labels":false,"title":null}},"y":{"field":"n","type":"quantitative","axis":{"orient":"right","values":[5,10,15,25,30,35,45,50,55,65,70,75],"tickSize":-9,"labels":false,"title":null}}}}
],"resolve":{"axis":{"x":"independent","y":"independent"}}},
{"width":257,"height":253,"title":{"text":"separation distribution","dx":8},"data":{"name":"s3"},
"layer":[
{"mark":{"type":"line","interpolate":"step-after","color":"black","strokeWidth":1.8},
"encoding":{"x":{"field":"x","type":"quantitative","scale":{"domain":[0,25],"nice":false,"zero":false},"axis":{"orient":"bottom","values":[0,5,10,15,20,25],"tickSize":-18,"labelPadding":31,"format":"d","title":null}},
"y":{"field":"n","type":"quantitative","scale":{"domain":[0,8000],"nice":false,"zero":false},"axis":{"orient":"left","values":[0,2000,4000,6000,8000],"tickSize":-18,"labelPadding":36,"format":"d","title":null}}}},
{"mark":{"type":"point","opacity":0},"encoding":{"x":{"field":"x","type":"quantitative","axis":{"orient":"top","values":[0,5,10,15,20,25],"tickSize":-18,"labels":false,"title":null}},"y":{"field":"n","type":"quantitative","axis":{"orient":"right","values":[0,2000,4000,6000,8000],"tickSize":-18,"labels":false,"title":null}}}},
{"mark":{"type":"point","opacity":0},"encoding":{"x":{"field":"x","type":"quantitative","axis":{"orient":"bottom","values":[1,2,3,4,6,7,8,9,11,12,13,14,16,17,18,19,21,22,23,24],"tickSize":-9,"labels":false,"title":null}},"y":{"field":"n","type":"quantitative","axis":{"orient":"left","values":[500,1000,1500,2500,3000,3500,4500,5000,5500,6500,7000,7500],"tickSize":-9,"labels":false,"title":null}}}},
{"mark":{"type":"point","opacity":0},"encoding":{"x":{"field":"x","type":"quantitative","axis":{"orient":"top","values":[1,2,3,4,6,7,8,9,11,12,13,14,16,17,18,19,21,22,23,24],"tickSize":-9,"labels":false,"title":null}},"y":{"field":"n","type":"quantitative","axis":{"orient":"right","values":[500,1000,1500,2500,3000,3500,4500,5000,5500,6500,7000,7500],"tickSize":-9,"labels":false,"title":null}}}}
],"resolve":{"axis":{"x":"independent","y":"independent"}}}
]
}
